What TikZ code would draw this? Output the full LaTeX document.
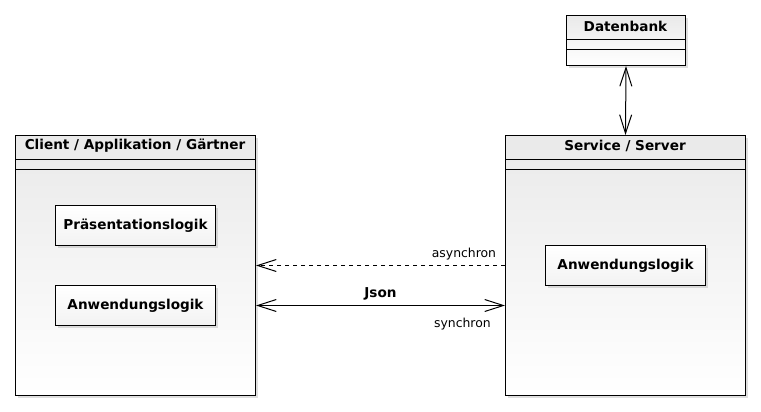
\documentclass[tikz,border=0pt]{standalone}
\usepackage{fontspec}
\setmainfont{DejaVu Sans}
\usetikzlibrary{arrows.meta,shadows}

\begin{document}
\begin{tikzpicture}[x=0.75pt, y=-0.75pt, line width=0.75pt,
    every node/.style={font=\fontsize{9.3}{11}\selectfont},
    paket/.style={draw, rectangle, anchor=north west, inner sep=0pt,
        top color=gray!17, bottom color=white,
        drop shadow={opacity=0.25, shadow xshift=2pt, shadow yshift=-2pt}},
    teil/.style={draw, rectangle, anchor=north west, inner sep=0pt,
        minimum width=120pt, minimum height=30pt, font=\fontsize{10.2}{12}\selectfont\bfseries,
        top color=white, bottom color=gray!10,
        drop shadow={opacity=0.25, shadow xshift=1.5pt, shadow yshift=-1.5pt}},
    kopf/.style={font=\fontsize{10.2}{12}\selectfont\bfseries},
    pfeil/.style={{Straight Barb[length=14pt, width=9pt]}-{Straight Barb[length=14pt, width=9pt]}}]
    \useasboundingbox (0,0) rectangle (761,411);
    % Klassen
    \node[paket, minimum width=89.25pt, minimum height=37.5pt] (db) at (566,15) {};
    \node[paket, minimum width=180pt, minimum height=195pt] (client) at (15,135) {};
    \node[paket, minimum width=180pt, minimum height=195pt] (service) at (505,135) {};
    \node[kopf] (dbtitel) at (625.5,26) {Datenbank};
    \node[kopf] (clienttitel) at (135,146) {Client / Applikation / Gärtner};
    \node[kopf] (servicetitel) at (625,146) {Service / Server};
    \draw (566,39) -- (685,39) (566,49) -- (685,49);
    \draw (15,159) -- (255,159) (15,169) -- (255,169);
    \draw (505,159) -- (745,159) (505,169) -- (745,169);
    % Komponenten
    \node[teil] (praes) at (55,205) {Präsentationslogik};
    \node[teil] (anwL) at (55,285) {Anwendungslogik};
    \node[teil] (anwR) at (545,245) {Anwendungslogik};
    % Verbindungen
    \draw[pfeil] (db.south) -- (service.north);
    \draw[dashed, -{Straight Barb[length=14pt, width=9pt]}] (service.west |- anwR.center) --
        node[pos=0, above left, xshift=-3pt]{asynchron} (client.east |- anwR.center);
    \draw[pfeil] (client.east |- anwL.center) --
        node[above, kopf]{Json}
        node[pos=1, below left, xshift=-7pt, yshift=-5.5pt]{synchron} (service.west |- anwL.center);
\end{tikzpicture}
\end{document}
